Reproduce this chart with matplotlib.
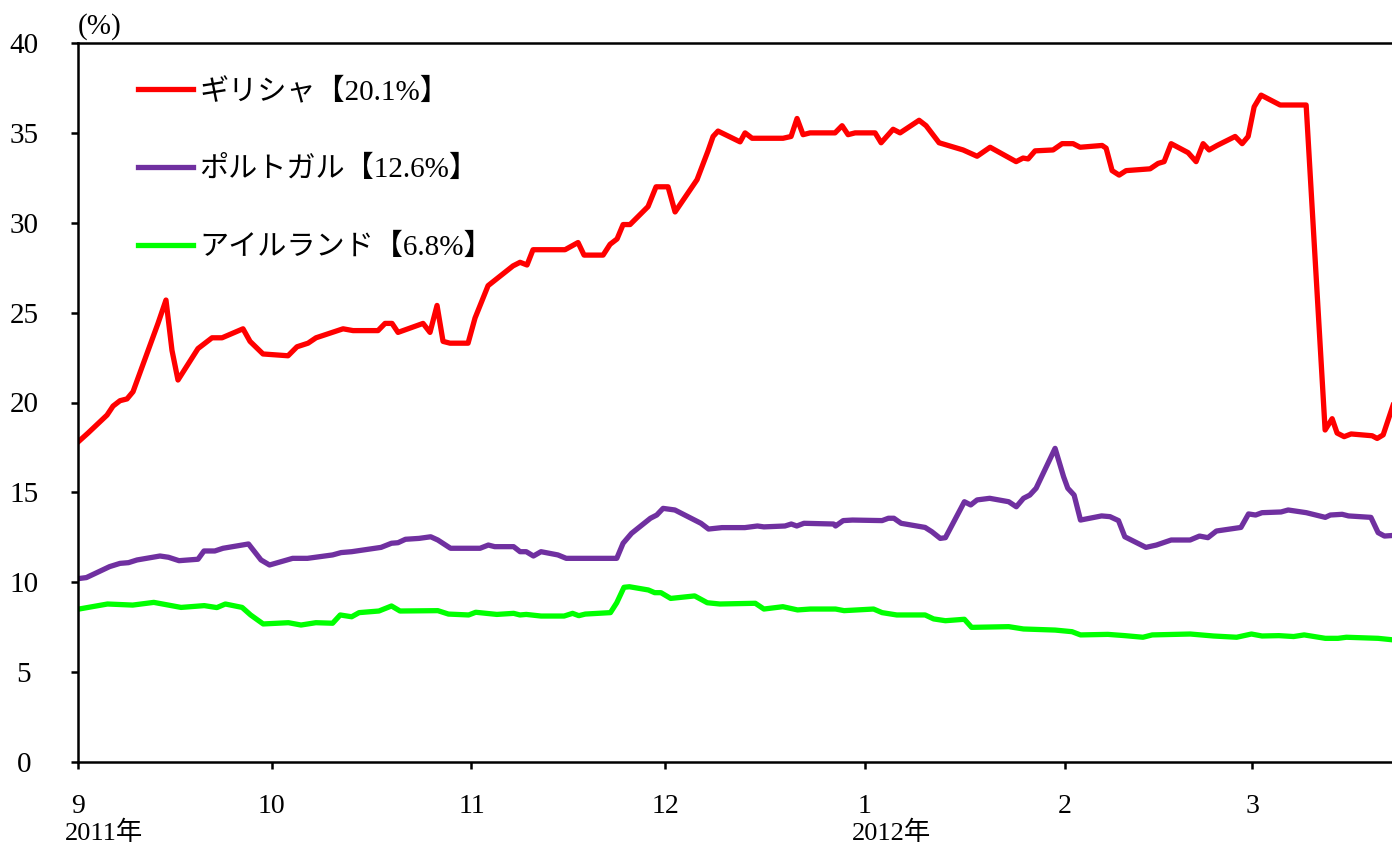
import pandas as pd
import matplotlib
matplotlib.use('Agg')
import matplotlib.pyplot as plt

plt.rcParams['font.family'] = ['Liberation Serif', 'Noto Sans CJK JP']

# x values are days counted from 2011-09-01
greece_days = [0, 1.55, 4.5, 5.43, 6.51, 7.6, 8.53, 12.4, 13.64, 14.57, 15.5, 18.6,
               20.78, 22.33, 25.58, 26.67, 28.68, 32.56, 33.95, 35.66, 36.9, 41.09,
               42.64, 46.51, 47.6, 48.68, 49.61, 53.49, 54.57, 55.66, 56.59, 57.67,
               60.47, 61.55, 63.57, 67.44, 68.53, 69.61, 70.54, 75.5, 77.52, 78.45,
               81.4, 82.48, 83.57, 84.5, 85.58, 88.37, 89.61, 91.47, 92.56, 95.97,
               97.67, 98.45, 99.22, 102.64, 103.41, 104.5, 109.3, 110.54, 111.47,
               112.4, 113.49, 117.36, 118.45, 119.38, 120.47, 123.57, 124.5, 126.36,
               127.44, 130.39, 131.47, 133.49, 137.21, 139.38, 141.4, 145.43, 146.51,
               147.29, 148.37, 151.16, 152.56, 154.26, 155.35, 158.76, 159.38, 160.31,
               161.4, 162.48, 166.2, 167.44, 168.37, 169.46, 172.09, 173.33, 174.42,
               175.35, 176.59, 179.38, 180.47, 181.4, 182.33, 183.41, 186.36, 190.39,
               193.33, 194.42, 195.19, 196.28, 197.36, 200.62, 201.4, 202.33, 204.1]
greece = [17.8, 18.3, 19.3, 19.8, 20.1, 20.2, 20.6, 24.4, 25.7, 22.9, 21.25, 23.0,
          23.6, 23.6, 24.1, 23.4, 22.7, 22.6, 23.1, 23.3, 23.6, 24.1,
          24.0, 24.0, 24.4, 24.4, 23.9, 24.4, 23.9, 25.4, 23.4, 23.3,
          23.3, 24.7, 26.5, 27.6, 27.8, 27.65, 28.5, 28.5, 28.9, 28.2,
          28.2, 28.8, 29.1, 29.9, 29.9, 30.9, 32.0, 32.0, 30.6, 32.4,
          34.0, 34.8, 35.1, 34.5, 35.0, 34.7, 34.7, 34.8, 35.8,
          34.9, 35.0, 35.0, 35.4, 34.9, 35.0, 35.0, 34.45, 35.2,
          35.0, 35.7, 35.4, 34.45, 34.05, 33.7, 34.2, 33.4, 33.6,
          33.55, 34.0, 34.05, 34.4, 34.4, 34.2, 34.3, 34.15, 32.9,
          32.65, 32.9, 33.0, 33.3, 33.4, 34.4, 33.9, 33.4, 34.4,
          34.05, 34.3, 34.8, 34.4, 34.8, 36.45, 37.1, 36.55, 36.55,
          18.47, 19.1, 18.3, 18.1, 18.25, 18.15, 18.0, 18.2, 20.1]

portugal_days = [0, 1.3, 4.9, 6.51, 7.83, 9.15, 12.71, 14.03, 15.66, 18.6, 19.53, 21.21,
                 22.48, 26.43, 28.37, 29.69, 33.27, 35.57, 39.47, 40.78, 42.42, 46.98,
                 48.6, 49.61, 50.76, 52.87, 54.68, 55.78, 57.75, 62.33, 63.61, 64.6,
                 67.53, 68.53, 69.49, 70.6, 71.78, 74.39, 75.69, 83.52, 84.5, 85.81,
                 88.74, 89.72, 90.7, 92.53, 96.57, 97.75, 99.84, 103.38, 105.33, 106.33,
                 109.6, 110.57, 111.43, 112.54, 117.12, 117.44, 118.62, 120.06, 124.65,
                 125.63, 126.48, 127.6, 131.32, 132.37, 133.67, 134.47, 137.41, 138.39,
                 139.38, 141.33, 144.28, 145.46, 146.57, 147.55, 148.53, 151.47, 152.79,
                 153.44, 154.42, 155.41, 158.68, 159.98, 161.3, 162.28, 165.55, 167.18,
                 169.47, 172.4, 173.86, 175.16, 176.48, 180.28, 181.46, 182.56, 183.55,
                 186.5, 187.6, 190.42, 193.36, 194.14, 195.97, 196.96, 200.43, 201.55,
                 202.53, 203.72]
portugal = [10.2, 10.26, 10.87, 11.05, 11.09, 11.24, 11.46, 11.39, 11.2, 11.28, 11.74, 11.74,
            11.89, 12.13, 11.24, 10.96, 11.33, 11.33, 11.52, 11.65, 11.7, 11.94,
            12.17, 12.2, 12.39, 12.44, 12.53, 12.35, 11.89, 11.89, 12.07, 11.98,
            11.98, 11.7, 11.7, 11.46, 11.7, 11.52, 11.33, 11.33, 12.17, 12.72,
            13.56, 13.74, 14.11, 14.02, 13.28, 12.96, 13.04, 13.04, 13.13, 13.08,
            13.13, 13.24, 13.13, 13.28, 13.24, 13.13, 13.43, 13.46, 13.43,
            13.56, 13.56, 13.28, 13.05, 12.81, 12.44, 12.48, 14.48, 14.3,
            14.58, 14.67, 14.48, 14.2, 14.67, 14.85, 15.23, 17.45, 15.87,
            15.23, 14.85, 13.46, 13.69, 13.65, 13.43, 12.53, 11.94, 12.07,
            12.35, 12.35, 12.57, 12.48, 12.85, 13.05, 13.8, 13.74, 13.87,
            13.91, 14.02, 13.87, 13.61, 13.74, 13.78, 13.69, 13.61, 12.76,
            12.57, 12.6]

ireland_days = [0, 4.57, 8.48, 11.75, 15.98, 19.58, 21.53, 22.84, 25.44, 26.76, 28.71,
                32.62, 34.57, 36.87, 39.47, 40.65, 42.42, 43.58, 46.65, 48.6, 49.92,
                55.78, 57.43, 60.56, 61.66, 64.93, 67.53, 68.51, 69.49, 71.78, 75.36,
                76.67, 77.64, 78.64, 82.54, 83.52, 84.64, 85.49, 88.42, 89.4, 90.37,
                91.88, 95.6, 97.55, 99.5, 105.0, 106.33, 109.27, 111.55, 113.52,
                117.44, 118.76, 123.33, 124.65, 126.93, 131.32, 132.64, 134.47, 137.41,
                138.53, 144.28, 146.57, 151.47, 154.09, 155.41, 159.66, 162.28, 165.09,
                166.53, 172.42, 176.02, 179.61, 181.91, 183.55, 186.17, 188.45, 190.09,
                193.36, 195.33, 196.63, 201.55, 203.72]
ireland = [8.5, 8.79, 8.73, 8.88, 8.6, 8.7, 8.59, 8.79, 8.6, 8.18, 7.68,
           7.75, 7.62, 7.75, 7.72, 8.18, 8.08, 8.31, 8.4, 8.68, 8.4,
           8.42, 8.23, 8.18, 8.33, 8.21, 8.27, 8.18, 8.21, 8.12, 8.12,
           8.27, 8.14, 8.23, 8.31, 8.86, 9.72, 9.75, 9.57, 9.42, 9.42,
           9.1, 9.24, 8.86, 8.79, 8.83, 8.51, 8.64, 8.46, 8.51,
           8.51, 8.42, 8.51, 8.31, 8.18, 8.18, 7.96, 7.86, 7.94,
           7.49, 7.53, 7.4, 7.34, 7.25, 7.07, 7.1, 7.03, 6.94,
           7.07, 7.12, 7.01, 6.94, 7.12, 7.01, 7.03, 6.98, 7.07,
           6.88, 6.88, 6.94, 6.88, 6.8]

labels = ['ギリシャ【20.1%】', 'ポルトガル【12.6%】', 'アイルランド【6.8%】']
colors = ['#FF0000', '#7030A0', '#00FF00']

start = pd.Timestamp('2011-09-01')
month_starts = pd.date_range('2011-09-01', '2012-03-01', freq='MS')
month_pos = list((month_starts - start).days)
month_labels = [str(m.month) for m in month_starts]
x_end = 203.7

fig = plt.figure(figsize=(13.92, 8.43), dpi=100)
ax = fig.add_axes([78 / 1392, 1 - 762 / 843, 1 - 78 / 1392, (762 - 43) / 843])

series = [(greece_days, greece), (portugal_days, portugal), (ireland_days, ireland)]
for (xs, ys), lab, c in zip(series, labels, colors):
    ax.plot(xs, ys, color=c, lw=3.8, label=lab)

ax.set_xlim(0, x_end)
ax.set_ylim(0, 40)
ax.set_yticks(range(0, 41, 5))
ax.set_xticks(month_pos)
ax.set_xticklabels(month_labels)

for side in ['left', 'bottom', 'top']:
    ax.spines[side].set_linewidth(1.8)
ax.spines['right'].set_visible(False)

ax.tick_params(axis='y', direction='out', length=5, width=1.8, labelsize=21, pad=34)
ax.tick_params(axis='x', direction='out', length=5, width=1.8, labelsize=20, pad=18)
for t in ax.get_yticklabels():
    t.set_horizontalalignment('center')

# year under the first month of each year
for pos, m in zip(month_pos, month_starts):
    if m.month in (9, 1):
        ax.annotate(f'{m.year}年', xy=(pos, 0), xycoords=('data', 'axes fraction'),
                    xytext=(-9.5, -42), textcoords='offset points',
                    ha='left', va='top', fontsize=19)

ax.annotate('(%)', xy=(0, 1), xycoords='axes fraction', xytext=(0, 2),
            textcoords='offset points', ha='left', va='bottom', fontsize=21)

ax.legend(loc='upper left', bbox_to_anchor=(0.0457, 0.952), frameon=False,
          fontsize=21, handlelength=1.9, handletextpad=0.2, labelspacing=1.74,
          borderpad=0, borderaxespad=0)

fig.savefig('out.png', dpi=100)
